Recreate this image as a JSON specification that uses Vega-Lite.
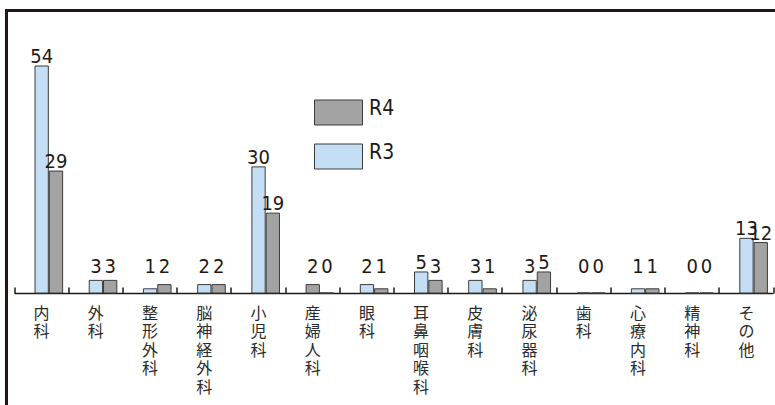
{
  "$schema": "https://vega.github.io/schema/vega-lite/v6.json",
  "autosize": {"type": "none"},
  "width": 798.5,
  "height": 424.5,
  "padding": {"left": 6.5, "top": 10.5, "right": -30, "bottom": -30},
  "background": "white",
  "config": {"view": {"stroke": "#231815", "strokeWidth": 3}},
  "data": {
    "values": [
      {"cat": "内科", "series": "R3", "value": 54},
      {"cat": "内科", "series": "R4", "value": 29},
      {"cat": "外科", "series": "R3", "value": 3},
      {"cat": "外科", "series": "R4", "value": 3},
      {"cat": "整形外科", "series": "R3", "value": 1},
      {"cat": "整形外科", "series": "R4", "value": 2},
      {"cat": "脳神経外科", "series": "R3", "value": 2},
      {"cat": "脳神経外科", "series": "R4", "value": 2},
      {"cat": "小児科", "series": "R3", "value": 30},
      {"cat": "小児科", "series": "R4", "value": 19},
      {"cat": "産婦人科", "series": "R3", "value": 2},
      {"cat": "産婦人科", "series": "R4", "value": 0},
      {"cat": "眼科", "series": "R3", "value": 2},
      {"cat": "眼科", "series": "R4", "value": 1},
      {"cat": "耳鼻咽喉科", "series": "R3", "value": 5},
      {"cat": "耳鼻咽喉科", "series": "R4", "value": 3},
      {"cat": "皮膚科", "series": "R3", "value": 3},
      {"cat": "皮膚科", "series": "R4", "value": 1},
      {"cat": "泌尿器科", "series": "R3", "value": 3},
      {"cat": "泌尿器科", "series": "R4", "value": 5},
      {"cat": "歯科", "series": "R3", "value": 0},
      {"cat": "歯科", "series": "R4", "value": 0},
      {"cat": "心療内科", "series": "R3", "value": 1},
      {"cat": "心療内科", "series": "R4", "value": 1},
      {"cat": "精神科", "series": "R3", "value": 0},
      {"cat": "精神科", "series": "R4", "value": 0},
      {"cat": "その他", "series": "R3", "value": 13},
      {"cat": "その他", "series": "R4", "value": 12}
    ]
  },
  "encoding": {
    "x": {
      "field": "cat",
      "type": "nominal",
      "sort": null,
      "scale": {"range": [7.5, 766.5], "paddingInner": 0, "paddingOuter": 0},
      "axis": {
        "title": null,
        "orient": "bottom",
        "offset": -142,
        "grid": false,
        "domainColor": "#231815",
        "domainWidth": 1.5,
        "tickColor": "#231815",
        "tickWidth": 1.5,
        "tickSize": -6,
        "tickBand": "extent",
        "labelAngle": 0,
        "labelExpr": "split(datum.label, '')",
        "labelFont": "Noto Sans CJK JP",
        "labelFontSize": 16,
        "labelLineHeight": 18.5,
        "labelColor": "#2b2b2b",
        "labelBaseline": "top",
        "labelPadding": 18,
        "labelOverlap": false,
        "labelBound": false,
        "labelFlush": false,
        "labelLimit": 0
      }
    },
    "xOffset": {
      "field": "series",
      "type": "nominal",
      "sort": ["R3", "R4"],
      "scale": {"paddingInner": 0.07, "paddingOuter": 0.93, "align": 0.79}
    }
  },
  "layer": [
    {
      "mark": {"type": "bar", "stroke": "#3c3c3c", "strokeWidth": 1},
      "encoding": {
        "y": {
          "field": "value",
          "type": "quantitative",
          "scale": {"domain": [0, 54], "range": [282.5, 55.5], "nice": false, "zero": true},
          "axis": null
        },
        "color": {
          "condition": {"test": "datum.cat === '産婦人科' && datum.series === 'R3'", "value": "#a3a3a3"},
          "field": "series",
          "type": "nominal",
          "scale": {"domain": ["R4", "R3"], "range": ["#a3a3a3", "#c4dff5"]},
          "legend": {
            "orient": "none",
            "legendX": 307.5,
            "legendY": 73.5,
            "title": null,
            "direction": "vertical",
            "padding": 0,
            "symbolType": "M-1,-0.354H1V0.688H-1Z",
            "symbolSize": 2304,
            "symbolStrokeColor": "#3c3c3c",
            "symbolStrokeWidth": 1,
            "labelFont": "'DejaVu Sans Condensed', 'Liberation Sans Narrow', 'Liberation Sans', sans-serif",
            "labelFontSize": 21,
            "labelColor": "#231815",
            "labelOffset": 6,
            "rowPadding": -7
          }
        }
      }
    },
    {
      "transform": [{"filter": "datum.value >= 5"}],
      "mark": {"type": "text", "font": "'DejaVu Sans Condensed', 'Liberation Sans Narrow', 'Liberation Sans', sans-serif", "fontSize": 20, "baseline": "alphabetic", "dy": -3, "color": "#231815"},
      "encoding": {
        "y": {"field": "value", "type": "quantitative", "axis": null},
        "text": {"field": "value", "type": "quantitative"}
      }
    },
    {
      "transform": [{"filter": "datum.value < 5"}],
      "mark": {"type": "text", "font": "'DejaVu Sans Condensed', 'Liberation Sans Narrow', 'Liberation Sans', sans-serif", "fontSize": 20, "baseline": "alphabetic", "color": "#231815"},
      "encoding": {
        "y": {"datum": 4.8, "type": "quantitative", "axis": null},
        "text": {"field": "value", "type": "quantitative"}
      }
    }
  ]
}
